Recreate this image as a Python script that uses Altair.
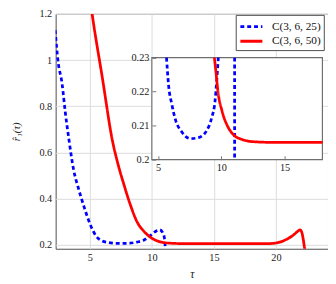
import altair as alt
import pandas as pd

# ---------------- data ----------------
series_names = ["C(3, 6, 25)", "C(3, 6, 50)"]
series_colors = ["#0000ff", "#ff0000"]
series_dashes = [[4, 3], [1, 0]]

# main plot
blue_x = [2.2, 2.42, 2.76, 3.02, 3.3, 3.68, 4.08, 4.55, 5.0, 5.5, 6.0, 6.5, 7.0, 7.6, 8.2,
          8.8, 9.34, 9.87, 10.39, 10.62, 10.9, 11.02, 11.1]
blue_y = [1.13, 1.0, 0.897, 0.772, 0.66, 0.527, 0.444, 0.361, 0.292, 0.238, 0.217, 0.21,
          0.207, 0.206, 0.207, 0.212, 0.22, 0.24, 0.261, 0.265, 0.25, 0.225, 0.17]

red_x = [5.0, 5.18, 6.0, 6.84, 7.24, 7.76, 8.22, 8.8, 9.4, 9.9, 10.4, 10.9, 11.5, 12.3,
         14.0, 16.0, 18.0, 19.5, 20.0, 20.5, 20.9, 21.3, 21.55, 21.8, 21.95, 22.08, 22.2,
         22.3, 22.4]
red_y = [1.27, 1.2, 0.925, 0.645, 0.555, 0.458, 0.38, 0.30, 0.256, 0.232, 0.218, 0.21,
         0.207, 0.2055, 0.205, 0.205, 0.205, 0.2055, 0.208, 0.215, 0.225, 0.238, 0.249,
         0.26, 0.265, 0.255, 0.225, 0.19, 0.16]

# inset
inset_blue_x = [5.66, 5.82, 6.08, 6.39, 6.86, 7.55, 8.2, 8.85, 9.24, 9.5, 9.63, 9.76,
                11.05, 11.05]
inset_blue_y = [0.23, 0.222, 0.2163, 0.2115, 0.2082, 0.2062, 0.2065, 0.2086, 0.2124,
                0.2172, 0.223, 0.23, 0.23, 0.2]
inset_blue_seg = [0] * 12 + [1, 1]

inset_red_x = [9.45, 9.57, 9.73, 10.05, 10.5, 11.0, 11.6, 12.5, 14.0, 16.0, 18.0]
inset_red_y = [0.23, 0.2259, 0.2201, 0.2144, 0.2098, 0.2072, 0.206, 0.2053, 0.2051,
               0.2051, 0.2051]

main_x_domain = [2.24, 24.2]
main_y_domain = [0.183, 1.2]
main_x_ticks = [5, 10, 15, 20]
main_y_ticks = [0.2, 0.4, 0.6, 0.8, 1.0, 1.2]

inset_x_domain = [4.5, 18]
inset_y_domain = [0.2, 0.23]
inset_x_ticks = [5, 10, 15]
inset_y_ticks = [0.2, 0.21, 0.22, 0.23]

# ---------------- tables ----------------
main_df = pd.concat([
    pd.DataFrame({"x": blue_x, "y": blue_y, "series": series_names[0],
                  "i": range(len(blue_x))}),
    pd.DataFrame({"x": red_x, "y": red_y, "series": series_names[1],
                  "i": range(len(red_x))}),
], ignore_index=True)

inset_df = pd.concat([
    pd.DataFrame({"x": inset_blue_x, "y": inset_blue_y, "series": series_names[0],
                  "seg": [f"b{s}" for s in inset_blue_seg], "i": range(len(inset_blue_x))}),
    pd.DataFrame({"x": inset_red_x, "y": inset_red_y, "series": series_names[1],
                  "seg": "r0", "i": range(len(inset_red_x))}),
], ignore_index=True)

inset_box_df = pd.DataFrame({"x0": [inset_x_domain[0]], "x1": [inset_x_domain[1]],
                             "y0": [inset_y_domain[0]], "y1": [inset_y_domain[1]]})

# ---------------- layout ----------------
W, H = 278.3, 240
PAD_L, PAD_T, PAD_B = 48.7, 3, 33
INSET_XR = [98.3, 272.6]
INSET_YR = [149, 44.7]
FONT = "'Liberation Serif', 'DejaVu Serif', serif"
FRAME = "#4d4d4d"

legend = alt.Legend(
    title=None, orient="none", legendX=184, legendY=1, direction="vertical",
    symbolType="M-1.5,0L1.5,0", symbolSize=225, symbolStrokeWidth=3,
    symbolOffset=4, labelOffset=12,
    labelFont=FONT, labelFontSize=11.5, labelColor="#111", labelFontWeight="normal",
    padding=3, rowPadding=0, strokeColor=FRAME, fillColor="white", cornerRadius=0,
)
color_enc = alt.Color("series:N", scale=alt.Scale(domain=series_names, range=series_colors),
                      legend=legend)
dash_enc = alt.StrokeDash("series:N", scale=alt.Scale(domain=series_names, range=series_dashes),
                          legend=legend)

main_x = alt.X("x:Q", scale=alt.Scale(domain=main_x_domain, nice=False, zero=False),
               axis=alt.Axis(orient="bottom", values=main_x_ticks, grid=True, gridColor="#dcdcdc",
                             ticks=False, domain=False, labelPadding=4, labelFont=FONT,
                             labelFontSize=10.5, labelColor="#222", labelFlush=False,
                             title="τ", titleFont=FONT, titleFontStyle="italic",
                             titleFontWeight="normal", titleFontSize=12, titleColor="#222",
                             titleY=29, titleBaseline="alphabetic"))
main_y = alt.Y("y:Q", scale=alt.Scale(domain=main_y_domain, nice=False, zero=False),
               axis=alt.Axis(orient="left", values=main_y_ticks, format=".1~f", grid=True,
                             gridColor="#dcdcdc", ticks=False, domain=False, labelPadding=4,
                             labelFont=FONT, labelFontSize=10.5, labelColor="#222",
                             labelFlush=False, title="r̂₁(τ)", titleFont=FONT,
                             titleFontStyle="italic", titleFontWeight="normal",
                             titleFontSize=11, titleColor="#222", titleAngle=270,
                             titleX=-40, titleY=H / 2, titleBaseline="middle",
                             titleAlign="center"))

main = alt.Chart(main_df).mark_line(clip=True, strokeWidth=2.8, strokeCap="butt",
                                    interpolate="monotone").encode(
    x=main_x, y=main_y, color=color_enc, strokeDash=dash_enc, order="i:Q")

inset_x_scale = alt.Scale(domain=inset_x_domain, range=INSET_XR, nice=False, zero=False)
inset_y_scale = alt.Scale(domain=inset_y_domain, range=INSET_YR, nice=False, zero=False)
inset_x_axis = alt.Axis(orient="top", offset=-INSET_YR[0], values=inset_x_ticks, domain=False,
                        grid=False, ticks=True, tickSize=4, tickColor="#777", tickWidth=1,
                        labelBaseline="top", labelPadding=-7, labelFont=FONT, labelFontSize=10.5,
                        labelColor="#222", labelFlush=False, title=None, zindex=1)
inset_y_axis = alt.Axis(orient="right", offset=INSET_XR[0] - W, values=inset_y_ticks,
                        format=".2~f", domain=False, grid=False, ticks=True, tickSize=4,
                        tickColor="#777", tickWidth=1, labelAlign="right", labelPadding=-7,
                        labelFont=FONT, labelFontSize=10.5, labelColor="#222", labelFlush=False,
                        title=None, zindex=1)

inset_box = alt.Chart(inset_box_df).mark_rect(fill="white", stroke="#6e6e6e",
                                              strokeWidth=1.2).encode(
    x=alt.X("x0:Q", scale=inset_x_scale, axis=inset_x_axis), x2="x1:Q",
    y=alt.Y("y0:Q", scale=inset_y_scale, axis=inset_y_axis), y2="y1:Q")

inset_lines = alt.Chart(inset_df).mark_line(strokeWidth=2.8, strokeCap="butt",
                                            interpolate="monotone").encode(
    x=alt.X("x:Q", scale=inset_x_scale, axis=inset_x_axis),
    y=alt.Y("y:Q", scale=inset_y_scale, axis=inset_y_axis),
    color=color_enc, strokeDash=dash_enc, detail="seg:N", order="i:Q")

inset = alt.layer(inset_box, inset_lines)

chart = alt.layer(main, inset).resolve_scale(x="independent", y="independent").properties(
    width=W, height=H,
    padding={"left": PAD_L, "top": PAD_T, "right": 0, "bottom": PAD_B},
    autosize=alt.AutoSizeParams(type="none"),
).configure_view(stroke=FRAME, strokeWidth=1)

chart.save("out.html", embed_options={"renderer": "svg", "actions": False})
